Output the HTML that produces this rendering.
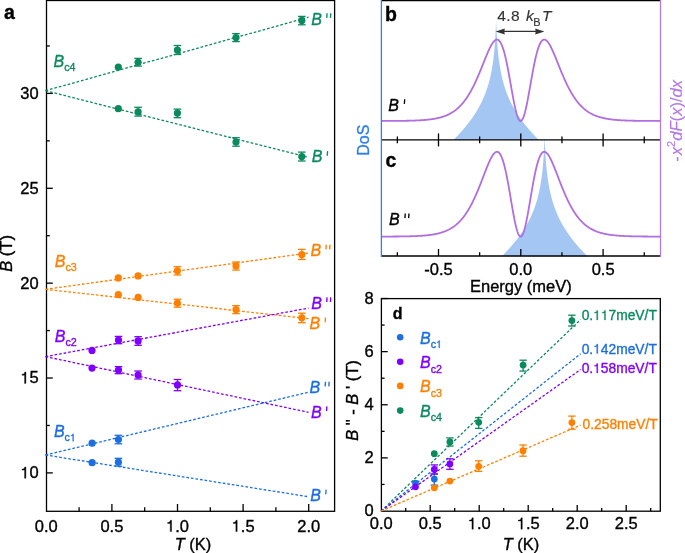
<!DOCTYPE html>
<html><head><meta charset="utf-8"><style>
html,body{margin:0;padding:0;background:#fff;overflow:hidden;}
svg{display:block;}
text{font-family:"Liberation Sans",sans-serif;}
svg{will-change:transform;}
</style></head><body>
<svg width="685" height="553" viewBox="0 0 685 553">
<rect x="0" y="0" width="685" height="553" fill="#fff"/>
<rect x="46.5" y="0.5" width="288.1" height="510.8" fill="none" stroke="#000" stroke-width="1.3"/>
<line x1="46.50" y1="472.90" x2="52.80" y2="472.90" stroke="#000" stroke-width="1.3" />
<path transform="translate(20.35,478.30) scale(0.008057,-0.008057)" d="M690,0 L525,0 L525,1020 L200,1020 L200,1130 Q390,1140 460,1215 Q520,1280 545,1409 L690,1409 Z" fill="#000" stroke="#000" stroke-width="43.4"/>
<text x="29.52" y="478.30" font-size="16.5" text-anchor="start" fill="#000" font-weight="normal" font-style="normal"  stroke="#000" stroke-width="0.35">0</text>
<line x1="46.50" y1="378.02" x2="52.80" y2="378.02" stroke="#000" stroke-width="1.3" />
<path transform="translate(20.35,383.42) scale(0.008057,-0.008057)" d="M690,0 L525,0 L525,1020 L200,1020 L200,1130 Q390,1140 460,1215 Q520,1280 545,1409 L690,1409 Z" fill="#000" stroke="#000" stroke-width="43.4"/>
<text x="29.52" y="383.42" font-size="16.5" text-anchor="start" fill="#000" font-weight="normal" font-style="normal"  stroke="#000" stroke-width="0.35">5</text>
<line x1="46.50" y1="283.15" x2="52.80" y2="283.15" stroke="#000" stroke-width="1.3" />
<text x="38.70" y="288.55" font-size="16.5" text-anchor="end" fill="#000" font-weight="normal" font-style="normal"  stroke="#000" stroke-width="0.35">20</text>
<line x1="46.50" y1="188.28" x2="52.80" y2="188.28" stroke="#000" stroke-width="1.3" />
<text x="38.70" y="193.68" font-size="16.5" text-anchor="end" fill="#000" font-weight="normal" font-style="normal"  stroke="#000" stroke-width="0.35">25</text>
<line x1="46.50" y1="93.40" x2="52.80" y2="93.40" stroke="#000" stroke-width="1.3" />
<text x="38.70" y="98.80" font-size="16.5" text-anchor="end" fill="#000" font-weight="normal" font-style="normal"  stroke="#000" stroke-width="0.35">30</text>
<line x1="46.50" y1="425.46" x2="49.80" y2="425.46" stroke="#000" stroke-width="1.3" />
<line x1="46.50" y1="330.59" x2="49.80" y2="330.59" stroke="#000" stroke-width="1.3" />
<line x1="46.50" y1="235.71" x2="49.80" y2="235.71" stroke="#000" stroke-width="1.3" />
<line x1="46.50" y1="140.84" x2="49.80" y2="140.84" stroke="#000" stroke-width="1.3" />
<line x1="46.50" y1="45.96" x2="49.80" y2="45.96" stroke="#000" stroke-width="1.3" />
<line x1="111.90" y1="511.30" x2="111.90" y2="504.00" stroke="#000" stroke-width="1.3" />
<line x1="177.50" y1="511.30" x2="177.50" y2="504.00" stroke="#000" stroke-width="1.3" />
<line x1="243.10" y1="511.30" x2="243.10" y2="504.00" stroke="#000" stroke-width="1.3" />
<line x1="308.70" y1="511.30" x2="308.70" y2="504.00" stroke="#000" stroke-width="1.3" />
<line x1="79.10" y1="511.30" x2="79.10" y2="507.20" stroke="#000" stroke-width="1.3" />
<line x1="144.70" y1="511.30" x2="144.70" y2="507.20" stroke="#000" stroke-width="1.3" />
<line x1="210.30" y1="511.30" x2="210.30" y2="507.20" stroke="#000" stroke-width="1.3" />
<line x1="275.90" y1="511.30" x2="275.90" y2="507.20" stroke="#000" stroke-width="1.3" />
<text x="46.30" y="531.60" font-size="16.5" text-anchor="middle" fill="#000" font-weight="normal" font-style="normal"  stroke="#000" stroke-width="0.35">0.0</text>
<text x="111.90" y="531.60" font-size="16.5" text-anchor="middle" fill="#000" font-weight="normal" font-style="normal"  stroke="#000" stroke-width="0.35">0.5</text>
<path transform="translate(166.03,531.60) scale(0.008057,-0.008057)" d="M690,0 L525,0 L525,1020 L200,1020 L200,1130 Q390,1140 460,1215 Q520,1280 545,1409 L690,1409 Z" fill="#000" stroke="#000" stroke-width="43.4"/>
<text x="175.21" y="531.60" font-size="16.5" text-anchor="start" fill="#000" font-weight="normal" font-style="normal"  stroke="#000" stroke-width="0.35">.0</text>
<path transform="translate(231.63,531.60) scale(0.008057,-0.008057)" d="M690,0 L525,0 L525,1020 L200,1020 L200,1130 Q390,1140 460,1215 Q520,1280 545,1409 L690,1409 Z" fill="#000" stroke="#000" stroke-width="43.4"/>
<text x="240.81" y="531.60" font-size="16.5" text-anchor="start" fill="#000" font-weight="normal" font-style="normal"  stroke="#000" stroke-width="0.35">.5</text>
<text x="308.70" y="531.60" font-size="16.5" text-anchor="middle" fill="#000" font-weight="normal" font-style="normal"  stroke="#000" stroke-width="0.35">2.0</text>
<text x="193" y="549.9" font-size="16.5" text-anchor="middle" stroke="#000" stroke-width="0.35"><tspan font-style="italic">T</tspan> (K)</text>
<text transform="translate(11.8,253.4) rotate(-90)" font-size="16.5" text-anchor="middle" stroke="#000" stroke-width="0.35"><tspan font-style="italic">B</tspan> (T)</text>
<text x="3.90" y="19.00" font-size="19.5" text-anchor="start" fill="#000" font-weight="bold" font-style="normal"  stroke="#000" stroke-width="0.35">a</text>
<line x1="45.50" y1="90.70" x2="308.50" y2="17.20" stroke="#0b8a5c" stroke-width="1.3" stroke-dasharray="2.7 1.9"/>
<line x1="45.50" y1="90.70" x2="308.50" y2="157.30" stroke="#0b8a5c" stroke-width="1.3" stroke-dasharray="2.7 1.9"/>
<line x1="45.50" y1="289.30" x2="308.50" y2="253.00" stroke="#ff8000" stroke-width="1.3" stroke-dasharray="2.7 1.9"/>
<line x1="45.50" y1="289.30" x2="308.50" y2="318.70" stroke="#ff8000" stroke-width="1.3" stroke-dasharray="2.7 1.9"/>
<line x1="45.50" y1="356.60" x2="308.50" y2="308.10" stroke="#8000ff" stroke-width="1.3" stroke-dasharray="2.7 1.9"/>
<line x1="45.50" y1="356.60" x2="308.50" y2="412.30" stroke="#8000ff" stroke-width="1.3" stroke-dasharray="2.7 1.9"/>
<line x1="45.50" y1="455.00" x2="308.50" y2="392.20" stroke="#1b6fe0" stroke-width="1.3" stroke-dasharray="2.7 1.9"/>
<line x1="45.50" y1="455.00" x2="308.50" y2="496.70" stroke="#1b6fe0" stroke-width="1.3" stroke-dasharray="2.7 1.9"/>
<circle cx="118.3" cy="67.2" r="3.6" fill="#0b8a5c"/>
<line x1="138.10" y1="58.40" x2="138.10" y2="66.10" stroke="#0b8a5c" stroke-width="1.3" />
<line x1="134.30" y1="58.40" x2="141.90" y2="58.40" stroke="#0b8a5c" stroke-width="1.3" />
<line x1="134.30" y1="66.10" x2="141.90" y2="66.10" stroke="#0b8a5c" stroke-width="1.3" />
<circle cx="138.1" cy="62.3" r="3.6" fill="#0b8a5c"/>
<line x1="177.40" y1="45.50" x2="177.40" y2="54.50" stroke="#0b8a5c" stroke-width="1.3" />
<line x1="173.60" y1="45.50" x2="181.20" y2="45.50" stroke="#0b8a5c" stroke-width="1.3" />
<line x1="173.60" y1="54.50" x2="181.20" y2="54.50" stroke="#0b8a5c" stroke-width="1.3" />
<circle cx="177.4" cy="50.1" r="3.6" fill="#0b8a5c"/>
<line x1="236.00" y1="33.60" x2="236.00" y2="41.60" stroke="#0b8a5c" stroke-width="1.3" />
<line x1="232.20" y1="33.60" x2="239.80" y2="33.60" stroke="#0b8a5c" stroke-width="1.3" />
<line x1="232.20" y1="41.60" x2="239.80" y2="41.60" stroke="#0b8a5c" stroke-width="1.3" />
<circle cx="236.0" cy="37.6" r="3.6" fill="#0b8a5c"/>
<line x1="301.80" y1="16.40" x2="301.80" y2="24.80" stroke="#0b8a5c" stroke-width="1.3" />
<line x1="298.00" y1="16.40" x2="305.60" y2="16.40" stroke="#0b8a5c" stroke-width="1.3" />
<line x1="298.00" y1="24.80" x2="305.60" y2="24.80" stroke="#0b8a5c" stroke-width="1.3" />
<circle cx="301.8" cy="20.4" r="3.6" fill="#0b8a5c"/>
<circle cx="118.3" cy="108.7" r="3.6" fill="#0b8a5c"/>
<line x1="138.10" y1="107.30" x2="138.10" y2="116.10" stroke="#0b8a5c" stroke-width="1.3" />
<line x1="134.30" y1="107.30" x2="141.90" y2="107.30" stroke="#0b8a5c" stroke-width="1.3" />
<line x1="134.30" y1="116.10" x2="141.90" y2="116.10" stroke="#0b8a5c" stroke-width="1.3" />
<circle cx="138.1" cy="111.9" r="3.6" fill="#0b8a5c"/>
<line x1="177.40" y1="109.10" x2="177.40" y2="117.70" stroke="#0b8a5c" stroke-width="1.3" />
<line x1="173.60" y1="109.10" x2="181.20" y2="109.10" stroke="#0b8a5c" stroke-width="1.3" />
<line x1="173.60" y1="117.70" x2="181.20" y2="117.70" stroke="#0b8a5c" stroke-width="1.3" />
<circle cx="177.4" cy="113.1" r="3.6" fill="#0b8a5c"/>
<line x1="236.00" y1="137.70" x2="236.00" y2="146.20" stroke="#0b8a5c" stroke-width="1.3" />
<line x1="232.20" y1="137.70" x2="239.80" y2="137.70" stroke="#0b8a5c" stroke-width="1.3" />
<line x1="232.20" y1="146.20" x2="239.80" y2="146.20" stroke="#0b8a5c" stroke-width="1.3" />
<circle cx="236.0" cy="142.0" r="3.6" fill="#0b8a5c"/>
<line x1="301.80" y1="152.10" x2="301.80" y2="161.00" stroke="#0b8a5c" stroke-width="1.3" />
<line x1="298.00" y1="152.10" x2="305.60" y2="152.10" stroke="#0b8a5c" stroke-width="1.3" />
<line x1="298.00" y1="161.00" x2="305.60" y2="161.00" stroke="#0b8a5c" stroke-width="1.3" />
<circle cx="301.8" cy="156.6" r="3.6" fill="#0b8a5c"/>
<text x="53.61" y="66.7" font-size="16" fill="#0b8a5c" font-style="italic" stroke="#0b8a5c" stroke-width="0.35">B</text>
<text x="64.28" y="71.10" font-size="10.7" text-anchor="start" fill="#0b8a5c" font-weight="normal" font-style="normal"  stroke="#0b8a5c" stroke-width="0.35">c4</text>
<text x="311.21" y="24.5" font-size="16" fill="#0b8a5c" font-style="italic" stroke="#0b8a5c" stroke-width="0.35">B</text>
<line x1="327.06" y1="13.30" x2="326.76" y2="17.90" stroke="#0b8a5c" stroke-width="1.35"/>
<line x1="330.76" y1="13.30" x2="330.46" y2="17.90" stroke="#0b8a5c" stroke-width="1.35"/>
<text x="311.71" y="162.3" font-size="16" fill="#0b8a5c" font-style="italic" stroke="#0b8a5c" stroke-width="0.35">B</text>
<line x1="327.56" y1="151.10" x2="327.26" y2="155.70" stroke="#0b8a5c" stroke-width="1.35"/>
<circle cx="118.3" cy="277.9" r="3.6" fill="#ff8000"/>
<circle cx="138.1" cy="275.9" r="3.6" fill="#ff8000"/>
<line x1="177.40" y1="266.70" x2="177.40" y2="275.00" stroke="#ff8000" stroke-width="1.3" />
<line x1="173.60" y1="266.70" x2="181.20" y2="266.70" stroke="#ff8000" stroke-width="1.3" />
<line x1="173.60" y1="275.00" x2="181.20" y2="275.00" stroke="#ff8000" stroke-width="1.3" />
<circle cx="177.4" cy="270.8" r="3.6" fill="#ff8000"/>
<line x1="236.00" y1="262.00" x2="236.00" y2="270.10" stroke="#ff8000" stroke-width="1.3" />
<line x1="232.20" y1="262.00" x2="239.80" y2="262.00" stroke="#ff8000" stroke-width="1.3" />
<line x1="232.20" y1="270.10" x2="239.80" y2="270.10" stroke="#ff8000" stroke-width="1.3" />
<circle cx="236.0" cy="266.0" r="3.6" fill="#ff8000"/>
<line x1="301.80" y1="249.40" x2="301.80" y2="259.50" stroke="#ff8000" stroke-width="1.3" />
<line x1="298.00" y1="249.40" x2="305.60" y2="249.40" stroke="#ff8000" stroke-width="1.3" />
<line x1="298.00" y1="259.50" x2="305.60" y2="259.50" stroke="#ff8000" stroke-width="1.3" />
<circle cx="301.8" cy="254.6" r="3.6" fill="#ff8000"/>
<circle cx="118.3" cy="294.7" r="3.6" fill="#ff8000"/>
<circle cx="138.1" cy="297.4" r="3.6" fill="#ff8000"/>
<line x1="177.40" y1="299.20" x2="177.40" y2="307.20" stroke="#ff8000" stroke-width="1.3" />
<line x1="173.60" y1="299.20" x2="181.20" y2="299.20" stroke="#ff8000" stroke-width="1.3" />
<line x1="173.60" y1="307.20" x2="181.20" y2="307.20" stroke="#ff8000" stroke-width="1.3" />
<circle cx="177.4" cy="303.2" r="3.6" fill="#ff8000"/>
<line x1="236.00" y1="305.60" x2="236.00" y2="313.60" stroke="#ff8000" stroke-width="1.3" />
<line x1="232.20" y1="305.60" x2="239.80" y2="305.60" stroke="#ff8000" stroke-width="1.3" />
<line x1="232.20" y1="313.60" x2="239.80" y2="313.60" stroke="#ff8000" stroke-width="1.3" />
<circle cx="236.0" cy="309.6" r="3.6" fill="#ff8000"/>
<line x1="301.80" y1="313.20" x2="301.80" y2="322.70" stroke="#ff8000" stroke-width="1.3" />
<line x1="298.00" y1="313.20" x2="305.60" y2="313.20" stroke="#ff8000" stroke-width="1.3" />
<line x1="298.00" y1="322.70" x2="305.60" y2="322.70" stroke="#ff8000" stroke-width="1.3" />
<circle cx="301.8" cy="317.8" r="3.6" fill="#ff8000"/>
<text x="54.81" y="266.5" font-size="16" fill="#ff8000" font-style="italic" stroke="#ff8000" stroke-width="0.35">B</text>
<text x="65.48" y="270.90" font-size="10.7" text-anchor="start" fill="#ff8000" font-weight="normal" font-style="normal"  stroke="#ff8000" stroke-width="0.35">c3</text>
<text x="310.41" y="256.0" font-size="16" fill="#ff8000" font-style="italic" stroke="#ff8000" stroke-width="0.35">B</text>
<line x1="326.26" y1="244.80" x2="325.96" y2="249.40" stroke="#ff8000" stroke-width="1.35"/>
<line x1="329.96" y1="244.80" x2="329.66" y2="249.40" stroke="#ff8000" stroke-width="1.35"/>
<text x="309.61" y="328.8" font-size="16" fill="#ff8000" font-style="italic" stroke="#ff8000" stroke-width="0.35">B</text>
<line x1="325.46" y1="317.60" x2="325.16" y2="322.20" stroke="#ff8000" stroke-width="1.35"/>
<circle cx="92.0" cy="350.4" r="3.6" fill="#8000ff"/>
<line x1="118.50" y1="336.40" x2="118.50" y2="343.70" stroke="#8000ff" stroke-width="1.3" />
<line x1="114.70" y1="336.40" x2="122.30" y2="336.40" stroke="#8000ff" stroke-width="1.3" />
<line x1="114.70" y1="343.70" x2="122.30" y2="343.70" stroke="#8000ff" stroke-width="1.3" />
<circle cx="118.5" cy="340.1" r="3.6" fill="#8000ff"/>
<line x1="138.10" y1="336.70" x2="138.10" y2="345.30" stroke="#8000ff" stroke-width="1.3" />
<line x1="134.30" y1="336.70" x2="141.90" y2="336.70" stroke="#8000ff" stroke-width="1.3" />
<line x1="134.30" y1="345.30" x2="141.90" y2="345.30" stroke="#8000ff" stroke-width="1.3" />
<circle cx="138.1" cy="340.9" r="3.6" fill="#8000ff"/>
<circle cx="92.0" cy="368.1" r="3.6" fill="#8000ff"/>
<line x1="118.50" y1="366.60" x2="118.50" y2="373.70" stroke="#8000ff" stroke-width="1.3" />
<line x1="114.70" y1="366.60" x2="122.30" y2="366.60" stroke="#8000ff" stroke-width="1.3" />
<line x1="114.70" y1="373.70" x2="122.30" y2="373.70" stroke="#8000ff" stroke-width="1.3" />
<circle cx="118.5" cy="370.1" r="3.6" fill="#8000ff"/>
<line x1="138.10" y1="371.00" x2="138.10" y2="379.00" stroke="#8000ff" stroke-width="1.3" />
<line x1="134.30" y1="371.00" x2="141.90" y2="371.00" stroke="#8000ff" stroke-width="1.3" />
<line x1="134.30" y1="379.00" x2="141.90" y2="379.00" stroke="#8000ff" stroke-width="1.3" />
<circle cx="138.1" cy="375.0" r="3.6" fill="#8000ff"/>
<line x1="177.50" y1="379.50" x2="177.50" y2="390.70" stroke="#8000ff" stroke-width="1.3" />
<line x1="173.70" y1="379.50" x2="181.30" y2="379.50" stroke="#8000ff" stroke-width="1.3" />
<line x1="173.70" y1="390.70" x2="181.30" y2="390.70" stroke="#8000ff" stroke-width="1.3" />
<circle cx="177.5" cy="384.9" r="3.6" fill="#8000ff"/>
<text x="54.81" y="341.8" font-size="16" fill="#8000ff" font-style="italic" stroke="#8000ff" stroke-width="0.35">B</text>
<text x="65.48" y="346.20" font-size="10.7" text-anchor="start" fill="#8000ff" font-weight="normal" font-style="normal"  stroke="#8000ff" stroke-width="0.35">c2</text>
<text x="311.21" y="308.6" font-size="16" fill="#8000ff" font-style="italic" stroke="#8000ff" stroke-width="0.35">B</text>
<line x1="327.06" y1="297.40" x2="326.76" y2="302.00" stroke="#8000ff" stroke-width="1.35"/>
<line x1="330.76" y1="297.40" x2="330.46" y2="302.00" stroke="#8000ff" stroke-width="1.35"/>
<text x="311.01" y="417.6" font-size="16" fill="#8000ff" font-style="italic" stroke="#8000ff" stroke-width="0.35">B</text>
<line x1="326.86" y1="406.40" x2="326.56" y2="411.00" stroke="#8000ff" stroke-width="1.35"/>
<circle cx="92.1" cy="443.2" r="3.6" fill="#1b6fe0"/>
<line x1="118.40" y1="435.30" x2="118.40" y2="443.80" stroke="#1b6fe0" stroke-width="1.3" />
<line x1="114.60" y1="435.30" x2="122.20" y2="435.30" stroke="#1b6fe0" stroke-width="1.3" />
<line x1="114.60" y1="443.80" x2="122.20" y2="443.80" stroke="#1b6fe0" stroke-width="1.3" />
<circle cx="118.4" cy="439.5" r="3.6" fill="#1b6fe0"/>
<circle cx="92.1" cy="462.7" r="3.6" fill="#1b6fe0"/>
<line x1="118.40" y1="458.30" x2="118.40" y2="466.20" stroke="#1b6fe0" stroke-width="1.3" />
<line x1="114.60" y1="458.30" x2="122.20" y2="458.30" stroke="#1b6fe0" stroke-width="1.3" />
<line x1="114.60" y1="466.20" x2="122.20" y2="466.20" stroke="#1b6fe0" stroke-width="1.3" />
<circle cx="118.4" cy="462.2" r="3.6" fill="#1b6fe0"/>
<text x="53.91" y="436.8" font-size="16" fill="#1b6fe0" font-style="italic" stroke="#1b6fe0" stroke-width="0.35">B</text>
<text x="64.58" y="441.20" font-size="10.7" text-anchor="start" fill="#1b6fe0" font-weight="normal" font-style="normal"  stroke="#1b6fe0" stroke-width="0.35">c</text>
<path transform="translate(69.93,441.20) scale(0.005225,-0.005225)" d="M690,0 L525,0 L525,1020 L200,1020 L200,1130 Q390,1140 460,1215 Q520,1280 545,1409 L690,1409 Z" fill="#1b6fe0" stroke="#1b6fe0" stroke-width="67.0"/>
<text x="309.61" y="393.0" font-size="16" fill="#1b6fe0" font-style="italic" stroke="#1b6fe0" stroke-width="0.35">B</text>
<line x1="325.46" y1="381.80" x2="325.16" y2="386.40" stroke="#1b6fe0" stroke-width="1.35"/>
<line x1="329.16" y1="381.80" x2="328.86" y2="386.40" stroke="#1b6fe0" stroke-width="1.35"/>
<text x="310.21" y="500.8" font-size="16" fill="#1b6fe0" font-style="italic" stroke="#1b6fe0" stroke-width="0.35">B</text>
<line x1="326.06" y1="489.60" x2="325.76" y2="494.20" stroke="#1b6fe0" stroke-width="1.35"/>
<defs><clipPath id="cb"><rect x="381" y="0" width="280" height="139.9"/></clipPath><clipPath id="cc"><rect x="381" y="139.9" width="280" height="116.4"/></clipPath></defs>
<polygon points="447.41,145.90 448.43,144.90 449.44,143.90 450.45,142.90 451.45,141.90 452.44,140.90 453.43,139.90 454.40,138.90 455.37,137.90 456.33,136.90 457.27,135.90 458.21,134.90 459.14,133.90 460.05,132.90 460.95,131.90 461.84,130.90 462.72,129.90 463.58,128.90 464.43,127.90 465.27,126.90 466.10,125.90 466.91,124.90 467.70,123.90 468.49,122.90 469.25,121.90 470.01,120.90 470.75,119.90 471.47,118.90 472.18,117.90 472.88,116.90 473.56,115.90 474.23,114.90 474.88,113.90 475.52,112.90 476.15,111.90 476.76,110.90 477.35,109.90 477.94,108.90 478.51,107.90 479.06,106.90 479.60,105.90 480.13,104.90 480.65,103.90 481.15,102.90 481.64,101.90 482.11,100.90 482.58,99.90 483.03,98.90 483.47,97.90 483.90,96.90 484.31,95.90 484.72,94.90 485.11,93.90 485.49,92.90 485.86,91.90 486.23,90.90 486.58,89.90 486.92,88.90 487.25,87.90 487.57,86.90 487.88,85.90 488.18,84.90 488.47,83.90 488.75,82.90 489.03,81.90 489.29,80.90 489.55,79.90 489.80,78.90 490.04,77.90 490.28,76.90 490.51,75.90 490.73,74.90 490.94,73.90 491.14,72.90 491.34,71.90 491.54,70.90 491.72,69.90 491.90,68.90 492.08,67.90 492.25,66.90 492.41,65.90 492.57,64.90 492.72,63.90 492.87,62.90 493.01,61.90 493.15,60.90 493.28,59.90 493.41,58.90 493.53,57.90 493.65,56.90 493.77,55.90 493.88,54.90 493.98,53.90 494.09,52.90 494.19,51.90 494.29,50.90 494.38,49.90 494.47,48.90 494.56,47.90 494.64,46.90 494.72,45.90 494.80,44.90 494.88,43.90 494.95,42.90 495.02,41.90 495.09,40.90 495.15,39.90 495.18,39.40 495.22,38.91 495.25,38.42 495.28,37.93 495.30,37.44 495.33,36.95 495.36,36.46 495.39,35.97 495.42,35.48 495.44,34.99 495.47,34.50 495.49,34.01 495.52,33.52 495.54,33.03 495.57,32.54 495.59,32.05 495.62,31.56 495.64,31.07 495.66,30.58 495.68,30.09 495.71,29.61 495.73,29.12 495.75,28.63 495.77,28.14 495.79,27.65 495.81,27.16 495.83,26.67 495.85,26.18 495.87,25.69 495.89,25.20 495.91,24.71 495.92,24.22 495.94,23.73 495.96,23.24 495.98,22.75 495.99,22.26 496.01,21.77 496.03,21.28 496.04,20.79 496.06,20.30 496.14,20.30 496.16,20.79 496.17,21.28 496.19,21.77 496.21,22.26 496.22,22.75 496.24,23.24 496.26,23.73 496.28,24.22 496.29,24.71 496.31,25.20 496.33,25.69 496.35,26.18 496.37,26.67 496.39,27.16 496.41,27.65 496.43,28.14 496.45,28.63 496.47,29.12 496.49,29.61 496.52,30.09 496.54,30.58 496.56,31.07 496.58,31.56 496.61,32.05 496.63,32.54 496.66,33.03 496.68,33.52 496.71,34.01 496.73,34.50 496.76,34.99 496.78,35.48 496.81,35.97 496.84,36.46 496.87,36.95 496.90,37.44 496.92,37.93 496.95,38.42 496.98,38.91 497.02,39.40 497.05,39.90 497.11,40.90 497.18,41.90 497.25,42.90 497.32,43.90 497.40,44.90 497.48,45.90 497.56,46.90 497.64,47.90 497.73,48.90 497.82,49.90 497.91,50.90 498.01,51.90 498.11,52.90 498.22,53.90 498.32,54.90 498.43,55.90 498.55,56.90 498.67,57.90 498.79,58.90 498.92,59.90 499.05,60.90 499.19,61.90 499.33,62.90 499.48,63.90 499.63,64.90 499.79,65.90 499.95,66.90 500.12,67.90 500.30,68.90 500.48,69.90 500.66,70.90 500.86,71.90 501.06,72.90 501.26,73.90 501.47,74.90 501.69,75.90 501.92,76.90 502.16,77.90 502.40,78.90 502.65,79.90 502.91,80.90 503.17,81.90 503.45,82.90 503.73,83.90 504.02,84.90 504.32,85.90 504.63,86.90 504.95,87.90 505.28,88.90 505.62,89.90 505.97,90.90 506.34,91.90 506.71,92.90 507.09,93.90 507.48,94.90 507.89,95.90 508.30,96.90 508.73,97.90 509.17,98.90 509.62,99.90 510.09,100.90 510.56,101.90 511.05,102.90 511.55,103.90 512.07,104.90 512.60,105.90 513.14,106.90 513.69,107.90 514.26,108.90 514.85,109.90 515.44,110.90 516.05,111.90 516.68,112.90 517.32,113.90 517.97,114.90 518.64,115.90 519.32,116.90 520.02,117.90 520.73,118.90 521.45,119.90 522.19,120.90 522.95,121.90 523.71,122.90 524.50,123.90 525.29,124.90 526.10,125.90 526.93,126.90 527.77,127.90 528.62,128.90 529.48,129.90 530.36,130.90 531.25,131.90 532.15,132.90 533.06,133.90 533.99,134.90 534.93,135.90 535.87,136.90 536.83,137.90 537.80,138.90 538.77,139.90 539.76,140.90 540.75,141.90 541.75,142.90 542.76,143.90 543.77,144.90 544.79,145.90" fill="#a4c6f2" clip-path="url(#cb)"/>
<polygon points="495.91,262.30 496.93,261.30 497.94,260.30 498.95,259.30 499.95,258.30 500.94,257.30 501.93,256.30 502.90,255.30 503.87,254.30 504.83,253.30 505.77,252.30 506.71,251.30 507.64,250.30 508.55,249.30 509.45,248.30 510.34,247.30 511.22,246.30 512.08,245.30 512.93,244.30 513.77,243.30 514.60,242.30 515.41,241.30 516.20,240.30 516.99,239.30 517.75,238.30 518.51,237.30 519.25,236.30 519.97,235.30 520.68,234.30 521.38,233.30 522.06,232.30 522.73,231.30 523.38,230.30 524.02,229.30 524.65,228.30 525.26,227.30 525.85,226.30 526.44,225.30 527.01,224.30 527.56,223.30 528.10,222.30 528.63,221.30 529.15,220.30 529.65,219.30 530.14,218.30 530.61,217.30 531.08,216.30 531.53,215.30 531.97,214.30 532.40,213.30 532.81,212.30 533.22,211.30 533.61,210.30 533.99,209.30 534.36,208.30 534.73,207.30 535.08,206.30 535.42,205.30 535.75,204.30 536.07,203.30 536.38,202.30 536.68,201.30 536.97,200.30 537.25,199.30 537.53,198.30 537.79,197.30 538.05,196.30 538.30,195.30 538.54,194.30 538.78,193.30 539.01,192.30 539.23,191.30 539.44,190.30 539.64,189.30 539.84,188.30 540.04,187.30 540.22,186.30 540.40,185.30 540.58,184.30 540.75,183.30 540.91,182.30 541.07,181.30 541.22,180.30 541.37,179.30 541.51,178.30 541.65,177.30 541.78,176.30 541.91,175.30 542.03,174.30 542.15,173.30 542.27,172.30 542.38,171.30 542.48,170.30 542.59,169.30 542.69,168.30 542.79,167.30 542.88,166.30 542.97,165.30 543.06,164.30 543.14,163.30 543.22,162.30 543.30,161.30 543.38,160.30 543.45,159.30 543.52,158.30 543.59,157.30 543.65,156.30 543.68,155.80 543.72,155.31 543.75,154.82 543.78,154.33 543.80,153.84 543.83,153.35 543.86,152.86 543.89,152.37 543.92,151.88 543.94,151.39 543.97,150.90 543.99,150.41 544.02,149.92 544.04,149.43 544.07,148.94 544.09,148.45 544.12,147.96 544.14,147.47 544.16,146.98 544.18,146.49 544.21,146.01 544.23,145.52 544.25,145.03 544.27,144.54 544.29,144.05 544.31,143.56 544.33,143.07 544.35,142.58 544.37,142.09 544.39,141.60 544.41,141.11 544.42,140.62 544.44,140.13 544.46,139.64 544.48,139.15 544.49,138.66 544.51,138.17 544.53,137.68 544.54,137.19 544.56,136.70 544.64,136.70 544.66,137.19 544.67,137.68 544.69,138.17 544.71,138.66 544.72,139.15 544.74,139.64 544.76,140.13 544.78,140.62 544.79,141.11 544.81,141.60 544.83,142.09 544.85,142.58 544.87,143.07 544.89,143.56 544.91,144.05 544.93,144.54 544.95,145.03 544.97,145.52 544.99,146.01 545.02,146.49 545.04,146.98 545.06,147.47 545.08,147.96 545.11,148.45 545.13,148.94 545.16,149.43 545.18,149.92 545.21,150.41 545.23,150.90 545.26,151.39 545.28,151.88 545.31,152.37 545.34,152.86 545.37,153.35 545.40,153.84 545.42,154.33 545.45,154.82 545.48,155.31 545.52,155.80 545.55,156.30 545.61,157.30 545.68,158.30 545.75,159.30 545.82,160.30 545.90,161.30 545.98,162.30 546.06,163.30 546.14,164.30 546.23,165.30 546.32,166.30 546.41,167.30 546.51,168.30 546.61,169.30 546.72,170.30 546.82,171.30 546.93,172.30 547.05,173.30 547.17,174.30 547.29,175.30 547.42,176.30 547.55,177.30 547.69,178.30 547.83,179.30 547.98,180.30 548.13,181.30 548.29,182.30 548.45,183.30 548.62,184.30 548.80,185.30 548.98,186.30 549.16,187.30 549.36,188.30 549.56,189.30 549.76,190.30 549.97,191.30 550.19,192.30 550.42,193.30 550.66,194.30 550.90,195.30 551.15,196.30 551.41,197.30 551.67,198.30 551.95,199.30 552.23,200.30 552.52,201.30 552.82,202.30 553.13,203.30 553.45,204.30 553.78,205.30 554.12,206.30 554.47,207.30 554.84,208.30 555.21,209.30 555.59,210.30 555.98,211.30 556.39,212.30 556.80,213.30 557.23,214.30 557.67,215.30 558.12,216.30 558.59,217.30 559.06,218.30 559.55,219.30 560.05,220.30 560.57,221.30 561.10,222.30 561.64,223.30 562.19,224.30 562.76,225.30 563.35,226.30 563.94,227.30 564.55,228.30 565.18,229.30 565.82,230.30 566.47,231.30 567.14,232.30 567.82,233.30 568.52,234.30 569.23,235.30 569.95,236.30 570.69,237.30 571.45,238.30 572.21,239.30 573.00,240.30 573.79,241.30 574.60,242.30 575.43,243.30 576.27,244.30 577.12,245.30 577.98,246.30 578.86,247.30 579.75,248.30 580.65,249.30 581.56,250.30 582.49,251.30 583.43,252.30 584.37,253.30 585.33,254.30 586.30,255.30 587.27,256.30 588.26,257.30 589.25,258.30 590.25,259.30 591.26,260.30 592.27,261.30 593.29,262.30" fill="#a4c6f2" clip-path="url(#cc)"/>
<path d="M381.00,120.97 L381.50,120.97 L382.00,120.97 L382.50,120.97 L383.00,120.97 L383.50,120.97 L384.00,120.97 L384.50,120.96 L385.00,120.96 L385.50,120.96 L386.00,120.96 L386.50,120.96 L387.00,120.96 L387.50,120.95 L388.00,120.95 L388.50,120.95 L389.00,120.95 L389.50,120.95 L390.00,120.94 L390.50,120.94 L391.00,120.94 L391.50,120.94 L392.00,120.93 L392.50,120.93 L393.00,120.93 L393.50,120.92 L394.00,120.92 L394.50,120.92 L395.00,120.91 L395.50,120.91 L396.00,120.90 L396.50,120.90 L397.00,120.90 L397.50,120.89 L398.00,120.89 L398.50,120.88 L399.00,120.88 L399.50,120.87 L400.00,120.87 L400.50,120.86 L401.00,120.85 L401.50,120.85 L402.00,120.84 L402.50,120.83 L403.00,120.83 L403.50,120.82 L404.00,120.81 L404.50,120.80 L405.00,120.80 L405.50,120.79 L406.00,120.78 L406.50,120.77 L407.00,120.76 L407.50,120.75 L408.00,120.74 L408.50,120.73 L409.00,120.71 L409.50,120.70 L410.00,120.69 L410.50,120.68 L411.00,120.66 L411.50,120.65 L412.00,120.63 L412.50,120.62 L413.00,120.60 L413.50,120.58 L414.00,120.57 L414.50,120.55 L415.00,120.53 L415.50,120.51 L416.00,120.49 L416.50,120.47 L417.00,120.45 L417.50,120.42 L418.00,120.40 L418.50,120.37 L419.00,120.35 L419.50,120.32 L420.00,120.29 L420.50,120.26 L421.00,120.23 L421.50,120.20 L422.00,120.17 L422.50,120.13 L423.00,120.09 L423.50,120.06 L424.00,120.02 L424.50,119.98 L425.00,119.94 L425.50,119.89 L426.00,119.85 L426.50,119.80 L427.00,119.75 L427.50,119.70 L428.00,119.65 L428.50,119.59 L429.00,119.53 L429.50,119.47 L430.00,119.41 L430.50,119.35 L431.00,119.28 L431.50,119.21 L432.00,119.14 L432.50,119.07 L433.00,118.99 L433.50,118.91 L434.00,118.82 L434.50,118.74 L435.00,118.65 L435.50,118.55 L436.00,118.46 L436.50,118.35 L437.00,118.25 L437.50,118.14 L438.00,118.03 L438.50,117.91 L439.00,117.79 L439.50,117.66 L440.00,117.53 L440.50,117.40 L441.00,117.26 L441.50,117.11 L442.00,116.96 L442.50,116.81 L443.00,116.64 L443.50,116.48 L444.00,116.30 L444.50,116.12 L445.00,115.94 L445.50,115.74 L446.00,115.54 L446.50,115.34 L447.00,115.12 L447.50,114.90 L448.00,114.67 L448.50,114.43 L449.00,114.19 L449.50,113.93 L450.00,113.67 L450.50,113.40 L451.00,113.11 L451.50,112.82 L452.00,112.52 L452.50,112.21 L453.00,111.89 L453.50,111.56 L454.00,111.22 L454.50,110.86 L455.00,110.49 L455.50,110.12 L456.00,109.73 L456.50,109.32 L457.00,108.91 L457.50,108.48 L458.00,108.04 L458.50,107.58 L459.00,107.11 L459.50,106.63 L460.00,106.13 L460.50,105.62 L461.00,105.09 L461.50,104.54 L462.00,103.98 L462.50,103.41 L463.00,102.81 L463.50,102.20 L464.00,101.57 L464.50,100.93 L465.00,100.27 L465.50,99.58 L466.00,98.88 L466.50,98.17 L467.00,97.43 L467.50,96.67 L468.00,95.90 L468.50,95.10 L469.00,94.29 L469.50,93.46 L470.00,92.60 L470.50,91.73 L471.00,90.84 L471.50,89.92 L472.00,88.99 L472.50,88.04 L473.00,87.06 L473.50,86.07 L474.00,85.06 L474.50,84.03 L475.00,82.98 L475.50,81.91 L476.00,80.83 L476.50,79.72 L477.00,78.60 L477.50,77.46 L478.00,76.31 L478.50,75.14 L479.00,73.96 L479.50,72.77 L480.00,71.56 L480.50,70.35 L481.00,69.12 L481.50,67.89 L482.00,66.64 L482.50,65.40 L483.00,64.15 L483.50,62.90 L484.00,61.65 L484.50,60.41 L485.00,59.16 L485.50,57.93 L486.00,56.71 L486.50,55.50 L487.00,54.31 L487.50,53.13 L488.00,51.98 L488.50,50.85 L489.00,49.76 L489.50,48.69 L490.00,47.67 L490.50,46.68 L491.00,45.74 L491.50,44.85 L492.00,44.01 L492.50,43.23 L493.00,42.51 L493.50,41.86 L494.00,41.29 L494.50,40.78 L495.00,40.36 L495.50,40.03 L496.00,39.79 L496.50,39.65 L497.00,39.60 L497.50,39.66 L498.00,39.83 L498.50,40.11 L499.00,40.52 L499.50,41.04 L500.00,41.68 L500.50,42.46 L501.00,43.36 L501.50,44.39 L502.00,45.56 L502.50,46.86 L503.00,48.29 L503.50,49.86 L504.00,51.55 L504.50,53.38 L505.00,55.33 L505.50,57.40 L506.00,59.59 L506.50,61.88 L507.00,64.28 L507.50,66.78 L508.00,69.36 L508.50,72.01 L509.00,74.73 L509.50,77.50 L510.00,80.31 L510.50,83.14 L511.00,85.99 L511.50,88.82 L512.00,91.64 L512.50,94.42 L513.00,97.15 L513.50,99.80 L514.00,102.37 L514.50,104.83 L515.00,107.17 L515.50,109.38 L516.00,111.43 L516.50,113.31 L517.00,115.01 L517.50,116.52 L518.00,117.83 L518.50,118.92 L519.00,119.79 L519.50,120.42 L520.00,120.83 L520.50,121.00 L521.00,120.92 L521.50,120.61 L522.00,120.07 L522.50,119.29 L523.00,118.29 L523.50,117.07 L524.00,115.64 L524.50,114.01 L525.00,112.20 L525.50,110.22 L526.00,108.07 L526.50,105.78 L527.00,103.37 L527.50,100.84 L528.00,98.22 L528.50,95.52 L529.00,92.76 L529.50,89.95 L530.00,87.12 L530.50,84.28 L531.00,81.44 L531.50,78.62 L532.00,75.83 L532.50,73.09 L533.00,70.41 L533.50,67.80 L534.00,65.27 L534.50,62.83 L535.00,60.49 L535.50,58.26 L536.00,56.14 L536.50,54.14 L537.00,52.27 L537.50,50.52 L538.00,48.90 L538.50,47.42 L539.00,46.06 L539.50,44.84 L540.00,43.76 L540.50,42.80 L541.00,41.98 L541.50,41.28 L542.00,40.71 L542.50,40.26 L543.00,39.93 L543.50,39.72 L544.00,39.61 L544.50,39.61 L545.00,39.72 L545.50,39.92 L546.00,40.22 L546.50,40.61 L547.00,41.08 L547.50,41.62 L548.00,42.24 L548.50,42.94 L549.00,43.69 L549.50,44.51 L550.00,45.38 L550.50,46.30 L551.00,47.27 L551.50,48.28 L552.00,49.33 L552.50,50.41 L553.00,51.53 L553.50,52.67 L554.00,53.83 L554.50,55.02 L555.00,56.22 L555.50,57.44 L556.00,58.67 L556.50,59.91 L557.00,61.15 L557.50,62.40 L558.00,63.65 L558.50,64.90 L559.00,66.15 L559.50,67.39 L560.00,68.63 L560.50,69.86 L561.00,71.08 L561.50,72.29 L562.00,73.49 L562.50,74.67 L563.00,75.85 L563.50,77.01 L564.00,78.15 L564.50,79.28 L565.00,80.39 L565.50,81.48 L566.00,82.55 L566.50,83.61 L567.00,84.65 L567.50,85.67 L568.00,86.67 L568.50,87.65 L569.00,88.61 L569.50,89.55 L570.00,90.47 L570.50,91.37 L571.00,92.26 L571.50,93.12 L572.00,93.96 L572.50,94.78 L573.00,95.58 L573.50,96.37 L574.00,97.13 L574.50,97.87 L575.00,98.60 L575.50,99.31 L576.00,100.00 L576.50,100.67 L577.00,101.32 L577.50,101.95 L578.00,102.57 L578.50,103.17 L579.00,103.75 L579.50,104.32 L580.00,104.87 L580.50,105.41 L581.00,105.93 L581.50,106.43 L582.00,106.92 L582.50,107.40 L583.00,107.86 L583.50,108.31 L584.00,108.74 L584.50,109.16 L585.00,109.57 L585.50,109.96 L586.00,110.35 L586.50,110.72 L587.00,111.07 L587.50,111.42 L588.00,111.76 L588.50,112.08 L589.00,112.40 L589.50,112.70 L590.00,113.00 L590.50,113.28 L591.00,113.56 L591.50,113.83 L592.00,114.09 L592.50,114.33 L593.00,114.58 L593.50,114.81 L594.00,115.03 L594.50,115.25 L595.00,115.46 L595.50,115.66 L596.00,115.86 L596.50,116.05 L597.00,116.23 L597.50,116.41 L598.00,116.58 L598.50,116.74 L599.00,116.90 L599.50,117.05 L600.00,117.20 L600.50,117.34 L601.00,117.48 L601.50,117.61 L602.00,117.74 L602.50,117.86 L603.00,117.98 L603.50,118.10 L604.00,118.21 L604.50,118.31 L605.00,118.42 L605.50,118.51 L606.00,118.61 L606.50,118.70 L607.00,118.79 L607.50,118.87 L608.00,118.96 L608.50,119.04 L609.00,119.11 L609.50,119.18 L610.00,119.25 L610.50,119.32 L611.00,119.39 L611.50,119.45 L612.00,119.51 L612.50,119.57 L613.00,119.62 L613.50,119.68 L614.00,119.73 L614.50,119.78 L615.00,119.83 L615.50,119.87 L616.00,119.92 L616.50,119.96 L617.00,120.00 L617.50,120.04 L618.00,120.08 L618.50,120.12 L619.00,120.15 L619.50,120.19 L620.00,120.22 L620.50,120.25 L621.00,120.28 L621.50,120.31 L622.00,120.34 L622.50,120.36 L623.00,120.39 L623.50,120.41 L624.00,120.44 L624.50,120.46 L625.00,120.48 L625.50,120.50 L626.00,120.52 L626.50,120.54 L627.00,120.56 L627.50,120.58 L628.00,120.59 L628.50,120.61 L629.00,120.63 L629.50,120.64 L630.00,120.66 L630.50,120.67 L631.00,120.68 L631.50,120.70 L632.00,120.71 L632.50,120.72 L633.00,120.73 L633.50,120.74 L634.00,120.75 L634.50,120.76 L635.00,120.77 L635.50,120.78 L636.00,120.79 L636.50,120.80 L637.00,120.81 L637.50,120.82 L638.00,120.82 L638.50,120.83 L639.00,120.84 L639.50,120.85 L640.00,120.85 L640.50,120.86 L641.00,120.86 L641.50,120.87 L642.00,120.88 L642.50,120.88 L643.00,120.89 L643.50,120.89 L644.00,120.89 L644.50,120.90 L645.00,120.90 L645.50,120.91 L646.00,120.91 L646.50,120.91 L647.00,120.92 L647.50,120.92 L648.00,120.93 L648.50,120.93 L649.00,120.93 L649.50,120.93 L650.00,120.94 L650.50,120.94 L651.00,120.94 L651.50,120.94 L652.00,120.95 L652.50,120.95 L653.00,120.95 L653.50,120.95 L654.00,120.96 L654.50,120.96 L655.00,120.96 L655.50,120.96 L656.00,120.96 L656.50,120.96 L657.00,120.97 L657.50,120.97 L658.00,120.97 L658.50,120.97 L659.00,120.97 L659.50,120.97 L660.00,120.97 L660.50,120.97" fill="none" stroke="#b06ee0" stroke-width="1.8"/>
<path d="M381.00,236.57 L381.50,236.57 L382.00,236.57 L382.50,236.57 L383.00,236.57 L383.50,236.57 L384.00,236.56 L384.50,236.56 L385.00,236.56 L385.50,236.56 L386.00,236.56 L386.50,236.56 L387.00,236.55 L387.50,236.55 L388.00,236.55 L388.50,236.55 L389.00,236.55 L389.50,236.54 L390.00,236.54 L390.50,236.54 L391.00,236.54 L391.50,236.53 L392.00,236.53 L392.50,236.53 L393.00,236.52 L393.50,236.52 L394.00,236.52 L394.50,236.51 L395.00,236.51 L395.50,236.51 L396.00,236.50 L396.50,236.50 L397.00,236.49 L397.50,236.49 L398.00,236.48 L398.50,236.48 L399.00,236.47 L399.50,236.47 L400.00,236.46 L400.50,236.45 L401.00,236.45 L401.50,236.44 L402.00,236.43 L402.50,236.43 L403.00,236.42 L403.50,236.41 L404.00,236.40 L404.50,236.40 L405.00,236.39 L405.50,236.38 L406.00,236.37 L406.50,236.36 L407.00,236.35 L407.50,236.34 L408.00,236.33 L408.50,236.31 L409.00,236.30 L409.50,236.29 L410.00,236.28 L410.50,236.26 L411.00,236.25 L411.50,236.23 L412.00,236.22 L412.50,236.20 L413.00,236.18 L413.50,236.17 L414.00,236.15 L414.50,236.13 L415.00,236.11 L415.50,236.09 L416.00,236.07 L416.50,236.05 L417.00,236.02 L417.50,236.00 L418.00,235.97 L418.50,235.95 L419.00,235.92 L419.50,235.89 L420.00,235.86 L420.50,235.83 L421.00,235.80 L421.50,235.77 L422.00,235.73 L422.50,235.69 L423.00,235.66 L423.50,235.62 L424.00,235.58 L424.50,235.54 L425.00,235.49 L425.50,235.45 L426.00,235.40 L426.50,235.35 L427.00,235.30 L427.50,235.25 L428.00,235.19 L428.50,235.13 L429.00,235.07 L429.50,235.01 L430.00,234.95 L430.50,234.88 L431.00,234.81 L431.50,234.74 L432.00,234.66 L432.50,234.59 L433.00,234.50 L433.50,234.42 L434.00,234.33 L434.50,234.24 L435.00,234.15 L435.50,234.05 L436.00,233.95 L436.50,233.84 L437.00,233.74 L437.50,233.62 L438.00,233.50 L438.50,233.38 L439.00,233.26 L439.50,233.13 L440.00,232.99 L440.50,232.85 L441.00,232.70 L441.50,232.55 L442.00,232.39 L442.50,232.23 L443.00,232.06 L443.50,231.89 L444.00,231.71 L444.50,231.52 L445.00,231.33 L445.50,231.12 L446.00,230.92 L446.50,230.70 L447.00,230.48 L447.50,230.25 L448.00,230.01 L448.50,229.76 L449.00,229.50 L449.50,229.24 L450.00,228.96 L450.50,228.68 L451.00,228.39 L451.50,228.08 L452.00,227.77 L452.50,227.44 L453.00,227.11 L453.50,226.76 L454.00,226.41 L454.50,226.04 L455.00,225.66 L455.50,225.26 L456.00,224.86 L456.50,224.44 L457.00,224.00 L457.50,223.56 L458.00,223.10 L458.50,222.62 L459.00,222.13 L459.50,221.63 L460.00,221.11 L460.50,220.58 L461.00,220.02 L461.50,219.46 L462.00,218.87 L462.50,218.27 L463.00,217.65 L463.50,217.02 L464.00,216.36 L464.50,215.69 L465.00,215.00 L465.50,214.29 L466.00,213.56 L466.50,212.81 L467.00,212.05 L467.50,211.26 L468.00,210.45 L468.50,209.62 L469.00,208.77 L469.50,207.91 L470.00,207.02 L470.50,206.11 L471.00,205.18 L471.50,204.22 L472.00,203.25 L472.50,202.26 L473.00,201.25 L473.50,200.21 L474.00,199.16 L474.50,198.09 L475.00,196.99 L475.50,195.88 L476.00,194.75 L476.50,193.60 L477.00,192.43 L477.50,191.25 L478.00,190.05 L478.50,188.83 L479.00,187.60 L479.50,186.35 L480.00,185.10 L480.50,183.83 L481.00,182.55 L481.50,181.27 L482.00,179.97 L482.50,178.68 L483.00,177.38 L483.50,176.07 L484.00,174.77 L484.50,173.47 L485.00,172.18 L485.50,170.90 L486.00,169.62 L486.50,168.36 L487.00,167.12 L487.50,165.90 L488.00,164.70 L488.50,163.52 L489.00,162.38 L489.50,161.27 L490.00,160.20 L490.50,159.18 L491.00,158.20 L491.50,157.27 L492.00,156.39 L492.50,155.58 L493.00,154.83 L493.50,154.16 L494.00,153.56 L494.50,153.03 L495.00,152.60 L495.50,152.25 L496.00,152.00 L496.50,151.85 L497.00,151.80 L497.50,151.86 L498.00,152.04 L498.50,152.34 L499.00,152.75 L499.50,153.30 L500.00,153.97 L500.50,154.78 L501.00,155.72 L501.50,156.79 L502.00,158.01 L502.50,159.36 L503.00,160.86 L503.50,162.49 L504.00,164.25 L504.50,166.15 L505.00,168.19 L505.50,170.34 L506.00,172.62 L506.50,175.01 L507.00,177.51 L507.50,180.11 L508.00,182.80 L508.50,185.56 L509.00,188.40 L509.50,191.28 L510.00,194.21 L510.50,197.16 L511.00,200.12 L511.50,203.08 L512.00,206.02 L512.50,208.91 L513.00,211.75 L513.50,214.52 L514.00,217.19 L514.50,219.76 L515.00,222.19 L515.50,224.49 L516.00,226.63 L516.50,228.59 L517.00,230.36 L517.50,231.94 L518.00,233.29 L518.50,234.43 L519.00,235.33 L519.50,236.00 L520.00,236.42 L520.50,236.60 L521.00,236.52 L521.50,236.20 L522.00,235.63 L522.50,234.82 L523.00,233.78 L523.50,232.51 L524.00,231.02 L524.50,229.32 L525.00,227.43 L525.50,225.37 L526.00,223.13 L526.50,220.75 L527.00,218.23 L527.50,215.60 L528.00,212.87 L528.50,210.06 L529.00,207.18 L529.50,204.26 L530.00,201.31 L530.50,198.34 L531.00,195.39 L531.50,192.45 L532.00,189.54 L532.50,186.69 L533.00,183.90 L533.50,181.18 L534.00,178.54 L534.50,176.00 L535.00,173.57 L535.50,171.24 L536.00,169.03 L536.50,166.95 L537.00,165.00 L537.50,163.18 L538.00,161.49 L538.50,159.94 L539.00,158.53 L539.50,157.26 L540.00,156.13 L540.50,155.14 L541.00,154.28 L541.50,153.55 L542.00,152.96 L542.50,152.49 L543.00,152.14 L543.50,151.92 L544.00,151.81 L544.50,151.82 L545.00,151.93 L545.50,152.14 L546.00,152.45 L546.50,152.85 L547.00,153.34 L547.50,153.91 L548.00,154.56 L548.50,155.28 L549.00,156.06 L549.50,156.91 L550.00,157.82 L550.50,158.78 L551.00,159.79 L551.50,160.84 L552.00,161.93 L552.50,163.06 L553.00,164.23 L553.50,165.41 L554.00,166.63 L554.50,167.86 L555.00,169.12 L555.50,170.39 L556.00,171.67 L556.50,172.96 L557.00,174.25 L557.50,175.55 L558.00,176.85 L558.50,178.16 L559.00,179.46 L559.50,180.75 L560.00,182.04 L560.50,183.32 L561.00,184.59 L561.50,185.85 L562.00,187.10 L562.50,188.34 L563.00,189.56 L563.50,190.77 L564.00,191.96 L564.50,193.13 L565.00,194.29 L565.50,195.43 L566.00,196.55 L566.50,197.65 L567.00,198.73 L567.50,199.79 L568.00,200.84 L568.50,201.86 L569.00,202.86 L569.50,203.84 L570.00,204.80 L570.50,205.74 L571.00,206.66 L571.50,207.55 L572.00,208.43 L572.50,209.29 L573.00,210.12 L573.50,210.94 L574.00,211.73 L574.50,212.51 L575.00,213.26 L575.50,214.00 L576.00,214.72 L576.50,215.42 L577.00,216.10 L577.50,216.76 L578.00,217.40 L578.50,218.03 L579.00,218.63 L579.50,219.23 L580.00,219.80 L580.50,220.36 L581.00,220.90 L581.50,221.42 L582.00,221.93 L582.50,222.43 L583.00,222.91 L583.50,223.38 L584.00,223.83 L584.50,224.27 L585.00,224.69 L585.50,225.10 L586.00,225.50 L586.50,225.89 L587.00,226.26 L587.50,226.62 L588.00,226.97 L588.50,227.31 L589.00,227.64 L589.50,227.96 L590.00,228.27 L590.50,228.56 L591.00,228.85 L591.50,229.13 L592.00,229.40 L592.50,229.66 L593.00,229.91 L593.50,230.15 L594.00,230.38 L594.50,230.61 L595.00,230.83 L595.50,231.04 L596.00,231.25 L596.50,231.44 L597.00,231.63 L597.50,231.82 L598.00,231.99 L598.50,232.16 L599.00,232.33 L599.50,232.49 L600.00,232.64 L600.50,232.79 L601.00,232.93 L601.50,233.07 L602.00,233.20 L602.50,233.33 L603.00,233.46 L603.50,233.58 L604.00,233.69 L604.50,233.80 L605.00,233.91 L605.50,234.01 L606.00,234.11 L606.50,234.21 L607.00,234.30 L607.50,234.39 L608.00,234.47 L608.50,234.55 L609.00,234.63 L609.50,234.71 L610.00,234.78 L610.50,234.85 L611.00,234.92 L611.50,234.99 L612.00,235.05 L612.50,235.11 L613.00,235.17 L613.50,235.22 L614.00,235.28 L614.50,235.33 L615.00,235.38 L615.50,235.43 L616.00,235.47 L616.50,235.52 L617.00,235.56 L617.50,235.60 L618.00,235.64 L618.50,235.68 L619.00,235.72 L619.50,235.75 L620.00,235.79 L620.50,235.82 L621.00,235.85 L621.50,235.88 L622.00,235.91 L622.50,235.94 L623.00,235.96 L623.50,235.99 L624.00,236.01 L624.50,236.04 L625.00,236.06 L625.50,236.08 L626.00,236.10 L626.50,236.12 L627.00,236.14 L627.50,236.16 L628.00,236.18 L628.50,236.19 L629.00,236.21 L629.50,236.23 L630.00,236.24 L630.50,236.26 L631.00,236.27 L631.50,236.28 L632.00,236.30 L632.50,236.31 L633.00,236.32 L633.50,236.33 L634.00,236.34 L634.50,236.35 L635.00,236.36 L635.50,236.37 L636.00,236.38 L636.50,236.39 L637.00,236.40 L637.50,236.41 L638.00,236.42 L638.50,236.42 L639.00,236.43 L639.50,236.44 L640.00,236.45 L640.50,236.45 L641.00,236.46 L641.50,236.46 L642.00,236.47 L642.50,236.48 L643.00,236.48 L643.50,236.49 L644.00,236.49 L644.50,236.49 L645.00,236.50 L645.50,236.50 L646.00,236.51 L646.50,236.51 L647.00,236.52 L647.50,236.52 L648.00,236.52 L648.50,236.53 L649.00,236.53 L649.50,236.53 L650.00,236.53 L650.50,236.54 L651.00,236.54 L651.50,236.54 L652.00,236.54 L652.50,236.55 L653.00,236.55 L653.50,236.55 L654.00,236.55 L654.50,236.56 L655.00,236.56 L655.50,236.56 L656.00,236.56 L656.50,236.56 L657.00,236.56 L657.50,236.57 L658.00,236.57 L658.50,236.57 L659.00,236.57 L659.50,236.57 L660.00,236.57 L660.50,236.57" fill="none" stroke="#b06ee0" stroke-width="1.8"/>
<line x1="381.00" y1="0.50" x2="661.00" y2="0.50" stroke="#000" stroke-width="1.3" />
<line x1="381.00" y1="139.90" x2="661.00" y2="139.90" stroke="#000" stroke-width="1.3" />
<line x1="381.00" y1="256.00" x2="661.00" y2="256.00" stroke="#000" stroke-width="1.3" />
<line x1="381.40" y1="0.00" x2="381.40" y2="257.00" stroke="#2f7fe6" stroke-width="1.3" />
<line x1="660.50" y1="0.00" x2="660.50" y2="257.00" stroke="#b57ae6" stroke-width="1.3" />
<line x1="397.35" y1="136.60" x2="397.35" y2="143.20" stroke="#000" stroke-width="1.3" />
<line x1="397.35" y1="256.00" x2="397.35" y2="252.20" stroke="#000" stroke-width="1.3" />
<line x1="438.50" y1="133.40" x2="438.50" y2="146.40" stroke="#000" stroke-width="1.3" />
<line x1="438.50" y1="256.00" x2="438.50" y2="249.00" stroke="#000" stroke-width="1.3" />
<line x1="479.65" y1="136.60" x2="479.65" y2="143.20" stroke="#000" stroke-width="1.3" />
<line x1="479.65" y1="256.00" x2="479.65" y2="252.20" stroke="#000" stroke-width="1.3" />
<line x1="520.80" y1="133.40" x2="520.80" y2="146.40" stroke="#000" stroke-width="1.3" />
<line x1="520.80" y1="256.00" x2="520.80" y2="249.00" stroke="#000" stroke-width="1.3" />
<line x1="561.95" y1="136.60" x2="561.95" y2="143.20" stroke="#000" stroke-width="1.3" />
<line x1="561.95" y1="256.00" x2="561.95" y2="252.20" stroke="#000" stroke-width="1.3" />
<line x1="603.10" y1="133.40" x2="603.10" y2="146.40" stroke="#000" stroke-width="1.3" />
<line x1="603.10" y1="256.00" x2="603.10" y2="249.00" stroke="#000" stroke-width="1.3" />
<line x1="644.25" y1="136.60" x2="644.25" y2="143.20" stroke="#000" stroke-width="1.3" />
<line x1="644.25" y1="256.00" x2="644.25" y2="252.20" stroke="#000" stroke-width="1.3" />
<text x="438.50" y="275.20" font-size="16.5" text-anchor="middle" fill="#000" font-weight="normal" font-style="normal"  stroke="#000" stroke-width="0.35">-0.5</text>
<text x="520.80" y="275.20" font-size="16.5" text-anchor="middle" fill="#000" font-weight="normal" font-style="normal"  stroke="#000" stroke-width="0.35">0.0</text>
<text x="603.10" y="275.20" font-size="16.5" text-anchor="middle" fill="#000" font-weight="normal" font-style="normal"  stroke="#000" stroke-width="0.35">0.5</text>
<text x="520.90" y="292.40" font-size="16.5" text-anchor="middle" fill="#000" font-weight="normal" font-style="normal"  stroke="#000" stroke-width="0.35">Energy (meV)</text>
<text x="385.11" y="21.00" font-size="19.5" text-anchor="start" fill="#000" font-weight="bold" font-style="normal"  stroke="#000" stroke-width="0.35">b</text>
<text x="385.54" y="166.60" font-size="19.5" text-anchor="start" fill="#000" font-weight="bold" font-style="normal"  stroke="#000" stroke-width="0.35">c</text>
<text x="388.21" y="110.5" font-size="16" fill="#000" font-style="italic" stroke="#000" stroke-width="0.35">B</text>
<line x1="404.66" y1="99.30" x2="404.36" y2="103.90" stroke="#000" stroke-width="1.35"/>
<text x="389.11" y="224.7" font-size="16" fill="#000" font-style="italic" stroke="#000" stroke-width="0.35">B</text>
<line x1="405.26" y1="213.50" x2="404.96" y2="218.10" stroke="#000" stroke-width="1.35"/>
<line x1="408.96" y1="213.50" x2="408.66" y2="218.10" stroke="#000" stroke-width="1.35"/>
<text x="497.3" y="21.3" font-size="15.5" fill="#333" stroke="#333" stroke-width="0.15" letter-spacing="0.4">4.8</text>
<text x="526.1" y="21.3" font-size="15.5" fill="#333" stroke="#333" stroke-width="0.15" font-style="italic">k</text>
<text x="533.3" y="25.6" font-size="11" fill="#333" stroke="#333" stroke-width="0.15">B</text>
<text x="541.9" y="21.3" font-size="15.5" fill="#333" stroke="#333" stroke-width="0.15" font-style="italic">T</text>
<line x1="503.00" y1="31.40" x2="537.00" y2="31.40" stroke="#333" stroke-width="1.4" />
<polygon points="495.6,31.4 504.8,28.4 504.3,31.4 504.8,34.4" fill="#333"/>
<polygon points="544.4,31.4 535.2,28.4 535.7,31.4 535.2,34.4" fill="#333"/>
<text transform="translate(369.4,140.2) rotate(-90)" font-size="16" text-anchor="middle" fill="#2f7fe6" stroke="#2f7fe6" stroke-width="0.35">DoS</text>
<text transform="translate(681.7,120.8) rotate(-90)" font-size="16.6" text-anchor="middle" fill="#b57ae6" stroke="#b57ae6" stroke-width="0.15">-<tspan font-style="italic" dx="1">x</tspan><tspan font-size="11" dy="-7.2">2</tspan><tspan font-style="italic" dy="7.2">dF</tspan>(<tspan font-style="italic">x</tspan>)/<tspan font-style="italic">dx</tspan></text>
<rect x="381.4" y="298.6" width="278.9" height="212.6" fill="none" stroke="#000" stroke-width="1.3"/>
<line x1="381.40" y1="457.88" x2="387.70" y2="457.88" stroke="#000" stroke-width="1.3" />
<line x1="381.40" y1="404.76" x2="387.70" y2="404.76" stroke="#000" stroke-width="1.3" />
<line x1="381.40" y1="351.64" x2="387.70" y2="351.64" stroke="#000" stroke-width="1.3" />
<line x1="381.40" y1="298.52" x2="387.70" y2="298.52" stroke="#000" stroke-width="1.3" />
<line x1="381.40" y1="484.44" x2="384.60" y2="484.44" stroke="#000" stroke-width="1.3" />
<line x1="381.40" y1="431.32" x2="384.60" y2="431.32" stroke="#000" stroke-width="1.3" />
<line x1="381.40" y1="378.20" x2="384.60" y2="378.20" stroke="#000" stroke-width="1.3" />
<line x1="381.40" y1="325.08" x2="384.60" y2="325.08" stroke="#000" stroke-width="1.3" />
<text x="373.60" y="516.40" font-size="16.5" text-anchor="end" fill="#000" font-weight="normal" font-style="normal"  stroke="#000" stroke-width="0.35">0</text>
<text x="373.60" y="463.28" font-size="16.5" text-anchor="end" fill="#000" font-weight="normal" font-style="normal"  stroke="#000" stroke-width="0.35">2</text>
<text x="373.60" y="410.16" font-size="16.5" text-anchor="end" fill="#000" font-weight="normal" font-style="normal"  stroke="#000" stroke-width="0.35">4</text>
<text x="373.60" y="357.04" font-size="16.5" text-anchor="end" fill="#000" font-weight="normal" font-style="normal"  stroke="#000" stroke-width="0.35">6</text>
<text x="373.60" y="303.92" font-size="16.5" text-anchor="end" fill="#000" font-weight="normal" font-style="normal"  stroke="#000" stroke-width="0.35">8</text>
<line x1="430.20" y1="511.20" x2="430.20" y2="504.90" stroke="#000" stroke-width="1.3" />
<line x1="479.20" y1="511.20" x2="479.20" y2="504.90" stroke="#000" stroke-width="1.3" />
<line x1="528.20" y1="511.20" x2="528.20" y2="504.90" stroke="#000" stroke-width="1.3" />
<line x1="577.20" y1="511.20" x2="577.20" y2="504.90" stroke="#000" stroke-width="1.3" />
<line x1="626.20" y1="511.20" x2="626.20" y2="504.90" stroke="#000" stroke-width="1.3" />
<line x1="405.70" y1="511.20" x2="405.70" y2="508.00" stroke="#000" stroke-width="1.3" />
<line x1="454.70" y1="511.20" x2="454.70" y2="508.00" stroke="#000" stroke-width="1.3" />
<line x1="503.70" y1="511.20" x2="503.70" y2="508.00" stroke="#000" stroke-width="1.3" />
<line x1="552.70" y1="511.20" x2="552.70" y2="508.00" stroke="#000" stroke-width="1.3" />
<line x1="601.70" y1="511.20" x2="601.70" y2="508.00" stroke="#000" stroke-width="1.3" />
<line x1="650.70" y1="511.20" x2="650.70" y2="508.00" stroke="#000" stroke-width="1.3" />
<text x="381.20" y="529.20" font-size="16.5" text-anchor="middle" fill="#000" font-weight="normal" font-style="normal"  stroke="#000" stroke-width="0.35">0.0</text>
<text x="430.20" y="529.20" font-size="16.5" text-anchor="middle" fill="#000" font-weight="normal" font-style="normal"  stroke="#000" stroke-width="0.35">0.5</text>
<path transform="translate(467.73,529.20) scale(0.008057,-0.008057)" d="M690,0 L525,0 L525,1020 L200,1020 L200,1130 Q390,1140 460,1215 Q520,1280 545,1409 L690,1409 Z" fill="#000" stroke="#000" stroke-width="43.4"/>
<text x="476.91" y="529.20" font-size="16.5" text-anchor="start" fill="#000" font-weight="normal" font-style="normal"  stroke="#000" stroke-width="0.35">.0</text>
<path transform="translate(516.73,529.20) scale(0.008057,-0.008057)" d="M690,0 L525,0 L525,1020 L200,1020 L200,1130 Q390,1140 460,1215 Q520,1280 545,1409 L690,1409 Z" fill="#000" stroke="#000" stroke-width="43.4"/>
<text x="525.91" y="529.20" font-size="16.5" text-anchor="start" fill="#000" font-weight="normal" font-style="normal"  stroke="#000" stroke-width="0.35">.5</text>
<text x="577.20" y="529.20" font-size="16.5" text-anchor="middle" fill="#000" font-weight="normal" font-style="normal"  stroke="#000" stroke-width="0.35">2.0</text>
<text x="626.20" y="529.20" font-size="16.5" text-anchor="middle" fill="#000" font-weight="normal" font-style="normal"  stroke="#000" stroke-width="0.35">2.5</text>
<text x="521" y="549.5" font-size="16.5" text-anchor="middle" stroke="#000" stroke-width="0.35"><tspan font-style="italic">T</tspan> (K)</text>
<text transform="translate(358.2,400.5) rotate(-90)" font-size="16.5" text-anchor="middle" stroke="#000" stroke-width="0.35"><tspan font-style="italic">B</tspan> " - <tspan font-style="italic">B</tspan> ' (T)</text>
<text x="392.74" y="319.00" font-size="16" text-anchor="start" fill="#000" font-weight="bold" font-style="normal"  stroke="#000" stroke-width="0.35">d</text>
<line x1="381.20" y1="511.00" x2="580.60" y2="319.60" stroke="#0b8a5c" stroke-width="1.3" stroke-dasharray="2.7 1.9"/>
<line x1="381.20" y1="511.00" x2="580.60" y2="353.80" stroke="#1b6fe0" stroke-width="1.3" stroke-dasharray="2.7 1.9"/>
<line x1="381.20" y1="511.00" x2="580.60" y2="369.50" stroke="#8000ff" stroke-width="1.3" stroke-dasharray="2.7 1.9"/>
<line x1="381.20" y1="511.00" x2="580.60" y2="425.10" stroke="#ff8000" stroke-width="1.3" stroke-dasharray="2.7 1.9"/>
<circle cx="415.5" cy="483.1" r="3.4" fill="#1b6fe0"/>
<line x1="434.30" y1="474.00" x2="434.30" y2="485.10" stroke="#1b6fe0" stroke-width="1.3" />
<line x1="430.60" y1="474.00" x2="438.00" y2="474.00" stroke="#1b6fe0" stroke-width="1.3" />
<line x1="430.60" y1="485.10" x2="438.00" y2="485.10" stroke="#1b6fe0" stroke-width="1.3" />
<circle cx="434.3" cy="479.1" r="3.4" fill="#1b6fe0"/>
<circle cx="415.5" cy="486.8" r="3.4" fill="#8000ff"/>
<line x1="434.30" y1="464.90" x2="434.30" y2="474.00" stroke="#8000ff" stroke-width="1.3" />
<line x1="430.60" y1="464.90" x2="438.00" y2="464.90" stroke="#8000ff" stroke-width="1.3" />
<line x1="430.60" y1="474.00" x2="438.00" y2="474.00" stroke="#8000ff" stroke-width="1.3" />
<circle cx="434.3" cy="469.5" r="3.4" fill="#8000ff"/>
<line x1="449.90" y1="458.80" x2="449.90" y2="469.30" stroke="#8000ff" stroke-width="1.3" />
<line x1="446.20" y1="458.80" x2="453.60" y2="458.80" stroke="#8000ff" stroke-width="1.3" />
<line x1="446.20" y1="469.30" x2="453.60" y2="469.30" stroke="#8000ff" stroke-width="1.3" />
<circle cx="449.9" cy="463.9" r="3.4" fill="#8000ff"/>
<circle cx="434.3" cy="487.8" r="3.4" fill="#ff8000"/>
<circle cx="449.9" cy="481.1" r="3.4" fill="#ff8000"/>
<line x1="478.70" y1="460.80" x2="478.70" y2="471.40" stroke="#ff8000" stroke-width="1.3" />
<line x1="475.00" y1="460.80" x2="482.40" y2="460.80" stroke="#ff8000" stroke-width="1.3" />
<line x1="475.00" y1="471.40" x2="482.40" y2="471.40" stroke="#ff8000" stroke-width="1.3" />
<circle cx="478.7" cy="466.3" r="3.4" fill="#ff8000"/>
<line x1="523.00" y1="445.00" x2="523.00" y2="456.20" stroke="#ff8000" stroke-width="1.3" />
<line x1="519.30" y1="445.00" x2="526.70" y2="445.00" stroke="#ff8000" stroke-width="1.3" />
<line x1="519.30" y1="456.20" x2="526.70" y2="456.20" stroke="#ff8000" stroke-width="1.3" />
<circle cx="523.0" cy="450.7" r="3.4" fill="#ff8000"/>
<line x1="571.90" y1="416.10" x2="571.90" y2="429.20" stroke="#ff8000" stroke-width="1.3" />
<line x1="568.20" y1="416.10" x2="575.60" y2="416.10" stroke="#ff8000" stroke-width="1.3" />
<line x1="568.20" y1="429.20" x2="575.60" y2="429.20" stroke="#ff8000" stroke-width="1.3" />
<circle cx="571.9" cy="422.6" r="3.4" fill="#ff8000"/>
<circle cx="434.3" cy="453.7" r="3.4" fill="#0b8a5c"/>
<line x1="449.90" y1="437.90" x2="449.90" y2="446.00" stroke="#0b8a5c" stroke-width="1.3" />
<line x1="446.20" y1="437.90" x2="453.60" y2="437.90" stroke="#0b8a5c" stroke-width="1.3" />
<line x1="446.20" y1="446.00" x2="453.60" y2="446.00" stroke="#0b8a5c" stroke-width="1.3" />
<circle cx="449.9" cy="442.0" r="3.4" fill="#0b8a5c"/>
<line x1="478.70" y1="417.60" x2="478.70" y2="428.40" stroke="#0b8a5c" stroke-width="1.3" />
<line x1="475.00" y1="417.60" x2="482.40" y2="417.60" stroke="#0b8a5c" stroke-width="1.3" />
<line x1="475.00" y1="428.40" x2="482.40" y2="428.40" stroke="#0b8a5c" stroke-width="1.3" />
<circle cx="478.7" cy="422.3" r="3.4" fill="#0b8a5c"/>
<line x1="523.10" y1="360.20" x2="523.10" y2="371.10" stroke="#0b8a5c" stroke-width="1.3" />
<line x1="519.40" y1="360.20" x2="526.80" y2="360.20" stroke="#0b8a5c" stroke-width="1.3" />
<line x1="519.40" y1="371.10" x2="526.80" y2="371.10" stroke="#0b8a5c" stroke-width="1.3" />
<circle cx="523.1" cy="365.1" r="3.4" fill="#0b8a5c"/>
<line x1="571.90" y1="315.20" x2="571.90" y2="326.00" stroke="#0b8a5c" stroke-width="1.3" />
<line x1="568.20" y1="315.20" x2="575.60" y2="315.20" stroke="#0b8a5c" stroke-width="1.3" />
<line x1="568.20" y1="326.00" x2="575.60" y2="326.00" stroke="#0b8a5c" stroke-width="1.3" />
<circle cx="571.9" cy="320.6" r="3.4" fill="#0b8a5c"/>
<text x="581.66" y="319.90" font-size="13.8" text-anchor="start" fill="#0b8a5c" font-weight="normal" font-style="normal"  stroke="#0b8a5c" stroke-width="0.35">0.</text>
<path transform="translate(593.17,319.90) scale(0.006738,-0.006738)" d="M690,0 L525,0 L525,1020 L200,1020 L200,1130 Q390,1140 460,1215 Q520,1280 545,1409 L690,1409 Z" fill="#0b8a5c" stroke="#0b8a5c" stroke-width="51.9"/>
<path transform="translate(600.84,319.90) scale(0.006738,-0.006738)" d="M690,0 L525,0 L525,1020 L200,1020 L200,1130 Q390,1140 460,1215 Q520,1280 545,1409 L690,1409 Z" fill="#0b8a5c" stroke="#0b8a5c" stroke-width="51.9"/>
<text x="608.52" y="319.90" font-size="13.8" text-anchor="start" fill="#0b8a5c" font-weight="normal" font-style="normal"  stroke="#0b8a5c" stroke-width="0.35">7meV/T</text>
<text x="581.66" y="353.60" font-size="13.8" text-anchor="start" fill="#1b6fe0" font-weight="normal" font-style="normal"  stroke="#1b6fe0" stroke-width="0.35">0.</text>
<path transform="translate(593.17,353.60) scale(0.006738,-0.006738)" d="M690,0 L525,0 L525,1020 L200,1020 L200,1130 Q390,1140 460,1215 Q520,1280 545,1409 L690,1409 Z" fill="#1b6fe0" stroke="#1b6fe0" stroke-width="51.9"/>
<text x="600.84" y="353.60" font-size="13.8" text-anchor="start" fill="#1b6fe0" font-weight="normal" font-style="normal"  stroke="#1b6fe0" stroke-width="0.35">42meV/T</text>
<text x="581.66" y="373.00" font-size="13.8" text-anchor="start" fill="#8000ff" font-weight="normal" font-style="normal"  stroke="#8000ff" stroke-width="0.35">0.</text>
<path transform="translate(593.17,373.00) scale(0.006738,-0.006738)" d="M690,0 L525,0 L525,1020 L200,1020 L200,1130 Q390,1140 460,1215 Q520,1280 545,1409 L690,1409 Z" fill="#8000ff" stroke="#8000ff" stroke-width="51.9"/>
<text x="600.84" y="373.00" font-size="13.8" text-anchor="start" fill="#8000ff" font-weight="normal" font-style="normal"  stroke="#8000ff" stroke-width="0.35">58meV/T</text>
<text x="582.56" y="428.60" font-size="13.8" text-anchor="start" fill="#ff8000" font-weight="normal" font-style="normal"  stroke="#ff8000" stroke-width="0.35">0.258meV/T</text>
<circle cx="400.2" cy="337.2" r="3.3" fill="#1b6fe0"/>
<text x="420.01" y="343.50" font-size="16" fill="#1b6fe0" font-style="italic" stroke="#1b6fe0" stroke-width="0.35">B</text>
<text x="430.68" y="347.90" font-size="10.7" text-anchor="start" fill="#1b6fe0" font-weight="normal" font-style="normal"  stroke="#1b6fe0" stroke-width="0.35">c</text>
<path transform="translate(436.03,347.90) scale(0.005225,-0.005225)" d="M690,0 L525,0 L525,1020 L200,1020 L200,1130 Q390,1140 460,1215 Q520,1280 545,1409 L690,1409 Z" fill="#1b6fe0" stroke="#1b6fe0" stroke-width="67.0"/>
<circle cx="400.2" cy="361.8" r="3.3" fill="#8000ff"/>
<text x="420.01" y="368.10" font-size="16" fill="#8000ff" font-style="italic" stroke="#8000ff" stroke-width="0.35">B</text>
<text x="430.68" y="372.50" font-size="10.7" text-anchor="start" fill="#8000ff" font-weight="normal" font-style="normal"  stroke="#8000ff" stroke-width="0.35">c2</text>
<circle cx="400.2" cy="385.9" r="3.3" fill="#ff8000"/>
<text x="420.01" y="392.20" font-size="16" fill="#ff8000" font-style="italic" stroke="#ff8000" stroke-width="0.35">B</text>
<text x="430.68" y="396.60" font-size="10.7" text-anchor="start" fill="#ff8000" font-weight="normal" font-style="normal"  stroke="#ff8000" stroke-width="0.35">c3</text>
<circle cx="400.2" cy="410.6" r="3.3" fill="#0b8a5c"/>
<text x="420.01" y="416.90" font-size="16" fill="#0b8a5c" font-style="italic" stroke="#0b8a5c" stroke-width="0.35">B</text>
<text x="430.68" y="421.30" font-size="10.7" text-anchor="start" fill="#0b8a5c" font-weight="normal" font-style="normal"  stroke="#0b8a5c" stroke-width="0.35">c4</text>
</svg></body></html>
